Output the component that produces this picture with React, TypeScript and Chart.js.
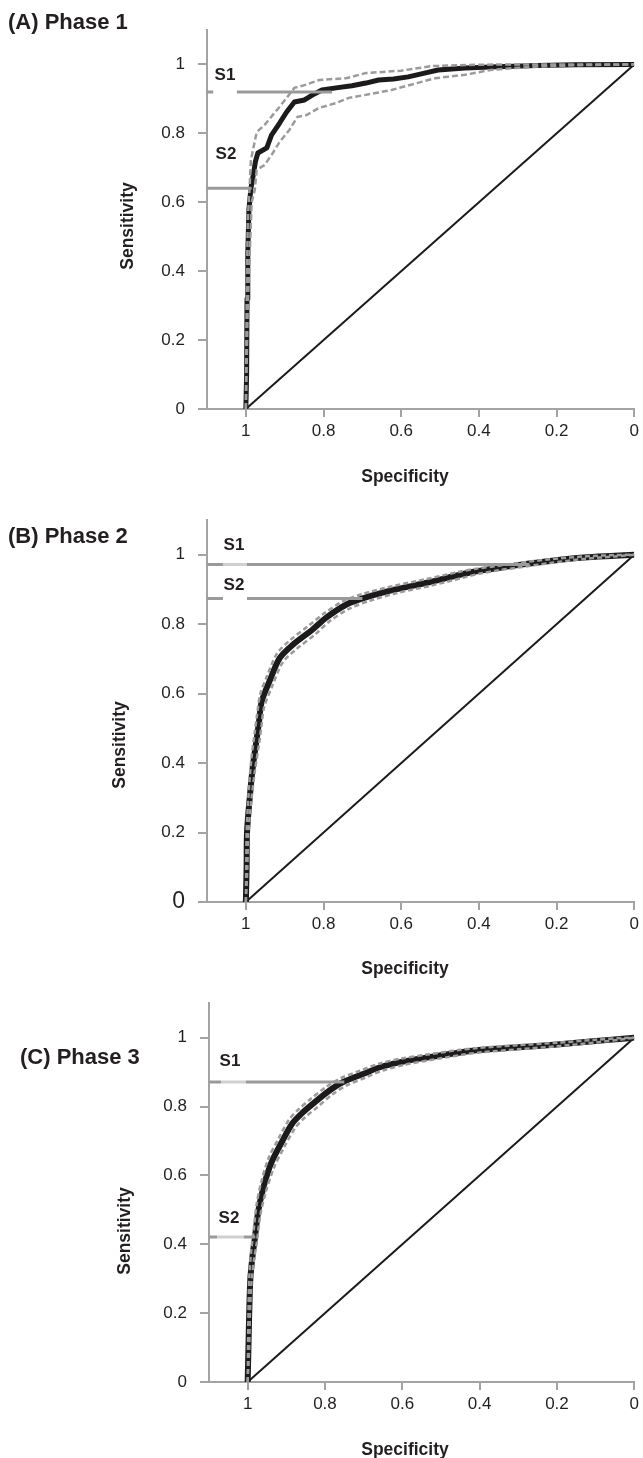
import React, { useEffect, useRef } from 'react';
import { Chart, registerables } from 'chart.js';

Chart.register(...registerables);

type Pt = [number, number];

// ---------- axis ticks ----------
const xTickValues = [1, 0.8, 0.6, 0.4, 0.2, 0];
const yTickValues = [0, 0.2, 0.4, 0.6, 0.8, 1];

// ---------- shared reference line ----------
const chanceLine: Pt[] = [[1, 0], [0, 1]];

// ---------- Phase 1 (specificity, sensitivity) ----------
const phase1Roc: Pt[] = [
  [1, 0], [0.998, 0.1], [0.997, 0.32], [0.995, 0.45], [0.992, 0.58], [0.987, 0.64],
  [0.98, 0.685], [0.975, 0.72], [0.969, 0.743], [0.946, 0.758], [0.934, 0.795],
  [0.913, 0.83], [0.895, 0.862], [0.875, 0.891], [0.849, 0.897], [0.829, 0.911],
  [0.804, 0.926], [0.768, 0.932], [0.727, 0.938], [0.691, 0.946], [0.658, 0.955],
  [0.62, 0.958], [0.582, 0.964], [0.54, 0.975], [0.505, 0.984], [0.436, 0.99],
  [0.352, 0.993], [0.25, 0.997], [0.15, 0.999], [0, 1],
];
const phase1Upper: Pt[] = [
  [1, 0], [0.998, 0.3], [0.995, 0.55], [0.99, 0.65], [0.987, 0.723], [0.972, 0.804],
  [0.952, 0.824], [0.931, 0.853], [0.913, 0.877], [0.895, 0.903], [0.875, 0.932],
  [0.849, 0.94], [0.811, 0.955], [0.742, 0.96], [0.691, 0.975], [0.6, 0.982],
  [0.523, 0.995], [0.45, 0.998], [0.35, 1], [0, 1],
];
const phase1Lower: Pt[] = [
  [1, 0], [0.995, 0.3], [0.985, 0.6], [0.977, 0.636], [0.972, 0.694], [0.952, 0.708],
  [0.934, 0.737], [0.913, 0.775], [0.888, 0.81], [0.867, 0.848], [0.844, 0.853],
  [0.811, 0.874], [0.768, 0.888], [0.735, 0.903], [0.666, 0.917], [0.625, 0.926],
  [0.513, 0.96], [0.436, 0.97], [0.37, 0.984], [0.268, 0.993], [0.14, 0.998], [0, 1],
];
const phase1Cutoffs = [
  { name: 'S1', sens: 0.92, spec: 0.778 },
  { name: 'S2', sens: 0.641, spec: 0.985 },
];

// ---------- Phase 2 ----------
const phase2Roc: Pt[] = [
  [1, 0], [0.998, 0.1], [0.997, 0.2], [0.99, 0.3], [0.982, 0.39], [0.972, 0.47],
  [0.966, 0.52], [0.959, 0.578], [0.939, 0.636], [0.913, 0.702], [0.88, 0.74],
  [0.829, 0.784], [0.793, 0.819], [0.742, 0.856], [0.691, 0.877], [0.615, 0.9],
  [0.531, 0.92], [0.446, 0.943], [0.403, 0.953], [0.35, 0.962], [0.301, 0.97],
  [0.217, 0.982], [0.13, 0.992], [0.05, 0.997], [0, 1],
];
const phase2Upper: Pt[] = [
  [1, 0], [0.999, 0.1], [0.998, 0.2], [0.993, 0.31], [0.986, 0.41], [0.977, 0.49],
  [0.971, 0.54], [0.963, 0.598], [0.945, 0.652], [0.92, 0.715], [0.888, 0.752],
  [0.838, 0.796], [0.8, 0.83], [0.75, 0.866], [0.7, 0.887], [0.62, 0.91],
  [0.535, 0.93], [0.45, 0.951], [0.405, 0.96], [0.35, 0.968], [0.3, 0.976],
  [0.217, 0.987], [0.13, 0.995], [0.05, 0.999], [0, 1],
];
const phase2Lower: Pt[] = [
  [1, 0], [0.996, 0.1], [0.994, 0.19], [0.986, 0.29], [0.977, 0.375], [0.966, 0.455],
  [0.96, 0.505], [0.953, 0.56], [0.932, 0.622], [0.905, 0.69], [0.87, 0.728],
  [0.82, 0.772], [0.785, 0.808], [0.733, 0.845], [0.682, 0.867], [0.61, 0.89],
  [0.527, 0.91], [0.44, 0.934], [0.4, 0.945], [0.35, 0.955], [0.3, 0.963],
  [0.217, 0.976], [0.13, 0.988], [0.05, 0.995], [0, 1],
];
const phase2Cutoffs = [
  { name: 'S1', sens: 0.972, spec: 0.27 },
  { name: 'S2', sens: 0.874, spec: 0.7 },
];

// ---------- Phase 3 ----------
const phase3Roc: Pt[] = [
  [1, 0], [0.998, 0.1], [0.996, 0.2], [0.993, 0.3], [0.987, 0.37], [0.982, 0.412],
  [0.972, 0.5], [0.959, 0.566], [0.939, 0.636], [0.913, 0.694], [0.885, 0.75],
  [0.86, 0.78], [0.829, 0.81], [0.79, 0.845], [0.753, 0.871], [0.7, 0.895],
  [0.658, 0.914], [0.6, 0.93], [0.531, 0.943], [0.45, 0.957], [0.403, 0.964],
  [0.3, 0.972], [0.2, 0.98], [0.1, 0.99], [0.03, 0.997], [0, 1],
];
const phase3Upper: Pt[] = [
  [1, 0], [0.999, 0.1], [0.998, 0.2], [0.996, 0.3], [0.991, 0.38], [0.986, 0.425],
  [0.977, 0.515], [0.965, 0.58], [0.946, 0.65], [0.92, 0.707], [0.893, 0.762],
  [0.868, 0.792], [0.837, 0.822], [0.798, 0.856], [0.76, 0.882], [0.707, 0.905],
  [0.664, 0.923], [0.605, 0.939], [0.535, 0.951], [0.455, 0.964], [0.405, 0.97],
  [0.3, 0.978], [0.2, 0.985], [0.1, 0.994], [0.03, 0.999], [0, 1],
];
const phase3Lower: Pt[] = [
  [1, 0], [0.996, 0.1], [0.994, 0.2], [0.99, 0.29], [0.983, 0.36], [0.977, 0.4],
  [0.967, 0.486], [0.953, 0.552], [0.932, 0.622], [0.906, 0.681], [0.877, 0.738],
  [0.852, 0.768], [0.82, 0.798], [0.782, 0.834], [0.746, 0.86], [0.693, 0.885],
  [0.652, 0.904], [0.595, 0.921], [0.527, 0.935], [0.445, 0.95], [0.4, 0.957],
  [0.3, 0.966], [0.2, 0.975], [0.1, 0.986], [0.03, 0.995], [0, 1],
];
const phase3Cutoffs = [
  { name: 'S1', sens: 0.871, spec: 0.75 },
  { name: 'S2', sens: 0.421, spec: 0.98 },
];

const FONT = "'Liberation Sans', Arial, Helvetica, sans-serif";
const AXIS_GREY = '#a3a3a3';
const CUT_GREY = '#9a9a9a';

interface Gap { from: number; to: number; color: string }
interface TextItem { text: string; x: number; y: number; size: number; bold?: boolean; align?: CanvasTextAlign; rotate?: boolean }
interface PanelCfg {
  title: string;
  top: number; height: number; padTop: number; yWidth: number; xHeight: number;
  roc: Pt[]; upper: Pt[]; lower: Pt[];
  cutoffs: { name: string; sens: number; spec: number }[];
  gaps: (Gap | null)[];
  rocWidth: number; tension: number; ciWidth: number; ciDash: number[];
  bigZero?: boolean;
  texts: TextItem[];
}

const toXY = (pts: Pt[]) => pts.map(([x, y]) => ({ x, y }));

function Panel({ cfg }: { cfg: PanelCfg }) {
  const ref = useRef<HTMLCanvasElement | null>(null);
  useEffect(() => {
    if (!ref.current) return;
    const cutSets = cfg.cutoffs.map((c, i) => {
      const g = cfg.gaps[i];
      const pts = g
        ? [{ x: 1.1, y: c.sens }, { x: g.from, y: c.sens }, { x: g.to, y: c.sens }, { x: c.spec, y: c.sens }]
        : [{ x: 1.1, y: c.sens }, { x: c.spec, y: c.sens }];
      return {
        data: pts,
        showLine: true,
        borderColor: CUT_GREY,
        borderWidth: 3,
        pointRadius: 0,
        borderCapStyle: 'butt' as const,
        segment: g ? { borderColor: (ctx: any) => (ctx.p0DataIndex === 1 ? g.color : undefined) } : undefined,
      };
    });
    const textPlugin = {
      id: 'panelTexts',
      afterDraw(chart: any) {
        const ctx: CanvasRenderingContext2D = chart.ctx;
        cfg.texts.forEach((t) => {
          ctx.save();
          ctx.fillStyle = '#231f20';
          ctx.font = `${t.bold ? 'bold ' : ''}${t.size}px ${FONT}`;
          ctx.textAlign = t.align || 'center';
          ctx.textBaseline = 'middle';
          ctx.translate(t.x, t.y - cfg.top);
          if (t.rotate) ctx.rotate(-Math.PI / 2);
          ctx.fillText(t.text, 0, 0);
          ctx.restore();
        });
      },
    };
    const chart = new Chart(ref.current, {
      type: 'scatter',
      data: {
        datasets: [
          ...cutSets,
          {
            data: toXY(cfg.upper), showLine: true, borderColor: '#9b9b9b', borderWidth: cfg.ciWidth,
            borderDash: cfg.ciDash, pointRadius: 0, tension: cfg.tension,
          },
          {
            data: toXY(cfg.lower), showLine: true, borderColor: '#9b9b9b', borderWidth: cfg.ciWidth,
            borderDash: cfg.ciDash, pointRadius: 0, tension: cfg.tension,
          },
          {
            data: toXY(cfg.roc), showLine: true, borderColor: '#1c1a1a', borderWidth: cfg.rocWidth,
            pointRadius: 0, tension: cfg.tension, borderJoinStyle: 'round',
          },
          {
            data: toXY(chanceLine), showLine: true, borderColor: '#1c1a1a', borderWidth: 2, pointRadius: 0,
          },
        ] as any,
      },
      options: {
        animation: false,
        responsive: false,
        maintainAspectRatio: false,
        devicePixelRatio: 1,
        events: [],
        layout: { padding: { top: cfg.padTop, right: 5, left: 0, bottom: 0 } },
        plugins: { legend: { display: false }, tooltip: { enabled: false }, title: { display: false } },
        scales: {
          x: {
            type: 'linear', reverse: true, min: 0, max: 1.1,
            afterFit: (s: any) => { s.height = cfg.xHeight; },
            afterBuildTicks: (s: any) => { s.ticks = xTickValues.map((value) => ({ value })); },
            grid: { drawOnChartArea: false, drawTicks: true, tickLength: 8, color: AXIS_GREY, lineWidth: 2 },
            border: { display: true, color: AXIS_GREY, width: 2 },
            ticks: {
              padding: 4, color: '#231f20', maxRotation: 0, autoSkip: false,
              font: { family: FONT, size: 17 },
              callback: (v: any) => String(Math.round(Number(v) * 10) / 10),
            },
          },
          y: {
            type: 'linear', min: 0, max: 1.1,
            afterFit: (s: any) => { s.width = cfg.yWidth; },
            afterBuildTicks: (s: any) => { s.ticks = yTickValues.map((value) => ({ value })); },
            grid: { drawOnChartArea: false, drawTicks: true, tickLength: 9, color: AXIS_GREY, lineWidth: 2 },
            border: { display: true, color: AXIS_GREY, width: 2 },
            ticks: {
              padding: 13, color: '#231f20', autoSkip: false,
              font: (c: any) => ({ family: FONT, size: cfg.bigZero && c.tick && c.tick.value === 0 ? 23 : 17 }),
              callback: (v: any) => String(Math.round(Number(v) * 10) / 10),
            },
          },
        },
      } as any,
      plugins: [textPlugin],
    });
    return () => chart.destroy();
  }, [cfg]);
  return (
    <canvas
      ref={ref}
      width={643}
      height={cfg.height}
      style={{ position: 'absolute', left: 0, top: cfg.top, width: 643, height: cfg.height }}
    />
  );
}

const axisTexts = (sensY: number, sensX: number, specY: number): TextItem[] => [
  { text: 'Sensitivity', x: sensX, y: sensY, size: 17.5, bold: true, rotate: true },
  { text: 'Specificity', x: 405, y: specY, size: 17.5, bold: true },
];

const panels: PanelCfg[] = [
  {
    title: '(A) Phase 1', top: 0, height: 490, padTop: 30, yWidth: 207, xHeight: 81,
    roc: phase1Roc, upper: phase1Upper, lower: phase1Lower, cutoffs: phase1Cutoffs,
    gaps: [{ from: 1.084, to: 1.023, color: 'rgba(255,255,255,0)' }, null],
    rocWidth: 5, tension: 0, ciWidth: 2.5, ciDash: [6, 3],
    texts: [
      { text: '(A) Phase 1', x: 8, y: 23, size: 22, bold: true, align: 'left' },
      { text: 'S1', x: 225, y: 75, size: 17, bold: true },
      { text: 'S2', x: 226, y: 154, size: 17, bold: true },
      ...axisTexts(226, 128, 477),
    ],
  },
  {
    title: '(B) Phase 2', top: 490, height: 490, padTop: 30, yWidth: 207, xHeight: 78,
    roc: phase2Roc, upper: phase2Upper, lower: phase2Lower, cutoffs: phase2Cutoffs,
    gaps: [{ from: 1.059, to: 0.997, color: '#d0d0d0' }, { from: 1.059, to: 0.997, color: 'rgba(255,255,255,0)' }],
    rocWidth: 6, tension: 0.3, ciWidth: 2.5, ciDash: [5, 3], bigZero: true,
    texts: [
      { text: '(B) Phase 2', x: 8, y: 537, size: 22, bold: true, align: 'left' },
      { text: 'S1', x: 234, y: 545, size: 17, bold: true },
      { text: 'S2', x: 234, y: 585, size: 17, bold: true },
      ...axisTexts(745, 120, 969),
    ],
  },
  {
    title: '(C) Phase 3', top: 980, height: 478, padTop: 23, yWidth: 209, xHeight: 76,
    roc: phase3Roc, upper: phase3Upper, lower: phase3Lower, cutoffs: phase3Cutoffs,
    gaps: [{ from: 1.069, to: 1.005, color: '#d0d0d0' }, { from: 1.079, to: 1.01, color: '#d0d0d0' }],
    rocWidth: 6, tension: 0.3, ciWidth: 2.5, ciDash: [5, 3],
    texts: [
      { text: '(C) Phase 3', x: 20, y: 1058, size: 22, bold: true, align: 'left' },
      { text: 'S1', x: 230, y: 1061, size: 17, bold: true },
      { text: 'S2', x: 229, y: 1218, size: 17, bold: true },
      ...axisTexts(1231, 125, 1450),
    ],
  },
];

export default function App() {
  return (
    <div style={{ position: 'absolute', left: 0, top: 0, width: 643, height: 1458, background: '#fff' }}>
      {panels.map((p) => (
        <Panel key={p.title} cfg={p} />
      ))}
    </div>
  );
}
